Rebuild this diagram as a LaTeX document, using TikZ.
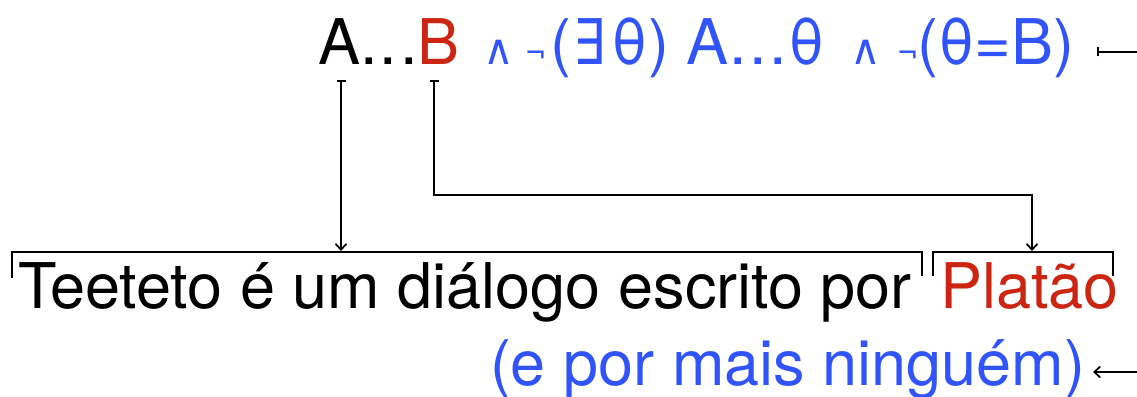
\documentclass[tikz,border=0pt]{standalone}
\usepackage{graphicx}
\usepackage{fontspec}
\setmainfont{TeX Gyre Heros}
\newfontfamily\symfont{DejaVu Sans}
\usetikzlibrary{arrows.meta}
\definecolor{myred}{RGB}{204,38,18}
\definecolor{myblue}{RGB}{48,84,250}
\newcommand{\smallop}[1]{{\symfont\fontsize{42}{42}\selectfont #1}}
\newcommand{\smallneg}[1]{{\fontsize{36}{36}\selectfont #1}}
\newcommand{\mydots}{.\hspace{2.5pt}.\hspace{2.5pt}.\hspace{2pt}}
\tikzset{
  txt/.style={inner sep=0pt, outer sep=0pt, anchor=base west, font=\fontsize{63}{70}\selectfont},
  link/.style={line width=1.7pt, {Bar[width=9pt,line width=1.7pt]}-{Straight Barb[length=6pt,width=11pt,line width=1.7pt]}},
  bracketline/.style={line width=2pt, line cap=rect},
}
\begin{document}
\begin{tikzpicture}[x=1pt,y=-1pt]
\useasboundingbox (0,0) rectangle (1137,396);
% top line
\node[txt] (A) at (318,65) {A};
\node[txt] (dots) at (A.base east) {\mydots};
\node[txt, text=myred] (B) at (dots.base east) {B};
\node[txt, text=myblue] (rest) at (483,65) {\makebox[42pt][l]{\smallop{∧}}\makebox[25pt][l]{\smallneg{¬}}(\hspace{3pt}\scalebox{0.8}[1]{\symfont ∃}\hspace{6pt}θ) A\mydots θ\hspace{25pt}\makebox[47pt][l]{\smallop{∧}}\makebox[20pt][l]{\smallneg{¬}}(θ=B)};
% bottom lines
\node[txt] (sent) at (18,308) {Teeteto é um diálogo escrito por};
\node[txt, text=myred] (plat) at (940,308) {Platão};
\node[txt, text=myblue] (extra) at (490,385) {(e por mais ninguém)};
% brackets
\coordinate (b1l) at (12,277);
\coordinate (b1r) at (922,275);
\coordinate (b2l) at (933,275);
\coordinate (b2r) at (1113,275);
\draw[bracketline] (b1l) |- (922,252) -- (b1r);
\draw[bracketline] (b2l) |- (1113,252) -- (b2r);
% connectors
\coordinate (aTop) at (341,80);
\coordinate (aBot) at (341,251);
\coordinate (bTop) at (434,80);
\coordinate (pBot) at (1032,251);
\draw[link] (aTop) -- (aBot);
\draw[link] (bTop) |- (1032,195) -- (pBot);
\coordinate (rTee) at (1097,52);
\coordinate (rEdge) at (1137,52);
\draw[line width=1.7pt, {Bar[width=9pt,line width=1.7pt]}-] (rTee) -- (rEdge);
\coordinate (eTip) at (1093,372);
\coordinate (eEdge) at (1137,372);
\draw[line width=1.7pt, -{Straight Barb[length=6pt,width=11pt,line width=1.7pt]}] (eEdge) -- (eTip);
\end{tikzpicture}
\end{document}
